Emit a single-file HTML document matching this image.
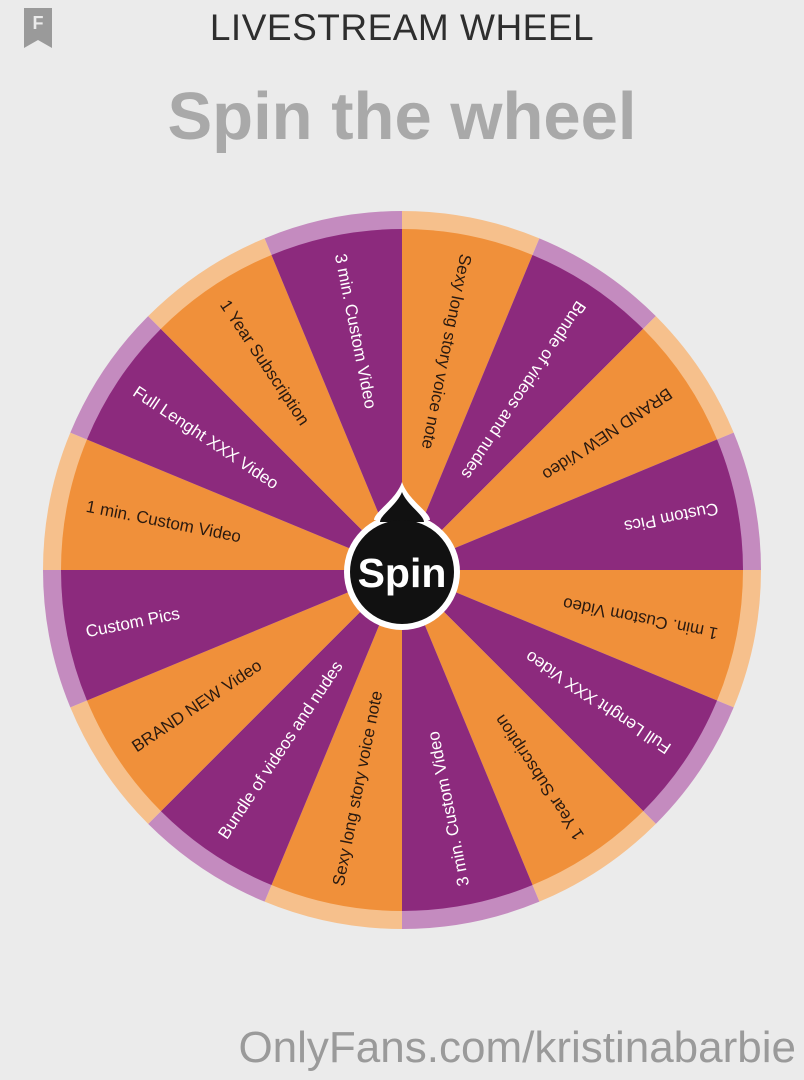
<!DOCTYPE html>
<html><head><meta charset="utf-8"><style>
html,body{margin:0;padding:0;background:#ebebeb;}
body{width:804px;height:1080px;overflow:hidden;position:relative;font-family:"Liberation Sans",sans-serif;}
.t1{position:absolute;top:7px;left:0;width:804px;text-align:center;font-size:37px;color:#2e2e2e;letter-spacing:0.5px;}
.t2{position:absolute;top:78px;left:0;width:804px;text-align:center;font-size:67px;font-weight:bold;color:#a9a9a9;}
.wm{position:absolute;top:1023px;right:8px;font-size:44px;color:#9a9a9a;}
.ic{position:absolute;left:24px;top:8px;width:28px;height:40px;background:#9a9a9a;clip-path:polygon(0 0,100% 0,100% 100%,50% 80%,0 100%);color:#ebebeb;font-size:18px;text-align:center;line-height:30px;font-weight:bold;}
svg{position:absolute;left:0;top:0;}
</style></head><body>
<div class="ic">F</div>
<div class="t1">LIVESTREAM WHEEL</div>
<div class="t2">Spin the wheel</div>
<svg width="804" height="1080" id="s"></svg>
<div class="wm">OnlyFans.com/kristinabarbie</div>
<script>
var cx=402,cy=570,R=359,r=341;
var labels=["Sexy long story voice note","Bundle of videos and nudes","BRAND NEW Video","Custom Pics","1 min. Custom Video","Full Lenght XXX Video","1 Year Subscription","3 min. Custom Video"];
var s='';
function pt(rad,a){a=a*Math.PI/180;return (cx+rad*Math.cos(a)).toFixed(2)+','+(cy+rad*Math.sin(a)).toFixed(2);}
for(var i=0;i<16;i++){
 var a0=-90+i*22.5,a1=a0+22.5,o=i%2==0;
 s+='<path d="M'+cx+','+cy+' L'+pt(R,a0)+' A'+R+','+R+' 0 0 1 '+pt(R,a1)+' Z" fill="'+(o?'#f6c08c':'#c48bbf')+'"/>';
 s+='<path d="M'+cx+','+cy+' L'+pt(r,a0)+' A'+r+','+r+' 0 0 1 '+pt(r,a1)+' Z" fill="'+(o?'#f0903a':'#8c2a7d')+'"/>';
 var m=a0+11.25;
 s+='<g transform="translate('+cx+','+cy+') rotate('+(m+180)+')"><text x="-322" y="0" dominant-baseline="middle" font-size="17" font-family="Liberation Sans,sans-serif" fill="'+(o?'#2a1a10':'#ffffff')+'">'+labels[i%8]+'</text></g>';
}
s+='<path d="M402,482 C408,500 430,512 430,520 L374,520 C374,512 396,500 402,482 Z" fill="#fff"/>';
s+='<circle cx="402" cy="572" r="58" fill="#fff"/>';
s+='<path d="M402,492 C407,505 424,515 424,522 L380,522 C380,515 397,505 402,492 Z" fill="#111"/>';
s+='<circle cx="402" cy="572" r="52" fill="#111"/>';
s+='<text x="402" y="587" text-anchor="middle" font-size="41" font-weight="bold" fill="#fff" font-family="Liberation Sans,sans-serif">Spin</text>';
document.getElementById('s').innerHTML=s;
</script>
</body></html>
